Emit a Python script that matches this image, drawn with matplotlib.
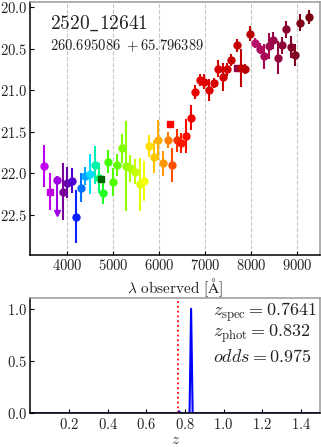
import numpy as np
import matplotlib
matplotlib.use("Agg")
import matplotlib.pyplot as plt

plt.rcParams['font.family'] = 'serif'
plt.rcParams['font.serif'] = ['cmr10']
plt.rcParams['mathtext.fontset'] = 'cm'
plt.rcParams['axes.formatter.use_mathtext'] = True
plt.rcParams['axes.unicode_minus'] = False

# --------------------- photometry -----------------------
wave = [3490, 3620, 3780, 3900, 3985, 4100, 4195, 4295, 4390, 4495,
        4600, 4685, 4735, 4785, 4885, 4985, 5080, 5185, 5270, 5375,
        5480, 5575, 5680, 5785, 5890, 5985, 6080, 6190, 6225, 6280,
        6385, 6475, 6580, 6685, 6785, 6880, 6980, 7090, 7185, 7275,
        7385, 7475, 7570, 7685, 7685, 7770, 7865, 7975, 8080, 8185,
        8290, 8385, 8485, 8580, 8675, 8765, 8870, 8955, 9060, 9270]
mag = [21.91, 22.22, 22.08, 22.22, 22.11, 22.09, 22.52, 22.17, 22.03, 22.01,
       21.90, 22.06, 22.07, 22.23, 21.86, 22.10, 21.90, 21.70, 21.91, 21.94,
       21.98, 22.13, 22.09, 21.67, 21.80, 21.60, 21.88, 21.60, 21.40, 21.90,
       21.60, 21.63, 21.55, 21.33, 21.02, 20.88, 20.90, 21.00, 20.91, 20.74,
       20.84, 20.75, 20.64, 20.46, 20.73, 20.73, 20.74, 20.32, 20.43, 20.50,
       20.59, 20.47, 20.40, 20.61, 20.46, 20.27, 20.48, 20.58, 20.19, 20.12]
err_lo = [0.25, 0.22, 0.05, 0.34, 0.19, 0.15, 0.32, 0.17, 0.11, 0.24,
          0.23, 0.18, 0.00, 0.14, 0.14, 0.17, 0.13, 0.18, 0.54, 0.16,
          0.15, 0.32, 0.24, 0.13, 0.20, 0.24, 0.15, 0.10, 0.00, 0.20,
          0.14, 0.12, 0.20, 0.15, 0.08, 0.07, 0.09, 0.13, 0.06, 0.10,
          0.17, 0.08, 0.07, 0.08, 0.00, 0.23, 0.06, 0.09, 0.06, 0.07,
          0.15, 0.16, 0.10, 0.20, 0.10, 0.10, 0.13, 0.13, 0.10, 0.08]
err_hi = list(err_lo)
err_hi[2] = 0.40
# broad-band filters drawn as squares, one upper limit
squares = [1, 12, 28, 44]
upper_limit = [2]
colors = ['#c000f0', '#c000e0', '#a000e8', '#7a009a', '#6800b0', '#5000d0',
          '#0a20ff', '#0070ff', '#00a8ff', '#00ddff', '#00f0b0', '#00ff70',
          '#006400', '#20ff20', '#40ff00', '#50ff00', '#60ff00', '#80ff00',
          '#90ff00', '#a8ff00', '#c8ff00', '#e0ff00', '#f8ff00', '#ffe000',
          '#ffc800', '#ffb000', '#ff9800', '#ff8000', '#ff0000', '#ff5000',
          '#ff3000', '#ff1800', '#ff0800', '#f00000', '#e80000', '#e40000',
          '#e00000', '#dc0000', '#d80000', '#d40000', '#d00000', '#cc0000',
          '#c80000', '#c40000', '#960046', '#c00000', '#bc0000', '#b80000',
          '#b8106a', '#b00c60', '#a80a58', '#a00850', '#9a0648', '#940540',
          '#8e0438', '#880330', '#840228', '#800020', '#800018', '#7a0010']

# --------------------- redshift pdf ---------------------
z_grid = [0.0, 0.765, 0.770, 0.775, 0.824, 0.832, 0.840, 1.5]
pdf = [0.0, 0.0, 0.02, 0.0, 0.0, 1.0, 0.0, 0.0]
z_spec = 0.7641
z_phot = 0.832
odds = 0.975
obj_id = "2520\\_12641"
ra, dec = 260.695086, 65.796389

txt = '#222222'

fig = plt.figure(figsize=(3.21, 4.47), dpi=100)
ax1 = fig.add_axes([0.095, 0.4295, 0.902, 0.566])
ax2 = fig.add_axes([0.095, 0.0755, 0.902, 0.257])

for i in range(len(wave)):
    m = 's' if i in squares else 'o'
    ax1.errorbar(wave[i], mag[i], yerr=[[err_lo[i]], [err_hi[i]]],
                 fmt=m, color=colors[i], ms=5, elinewidth=1.5, capsize=0)
    if i in upper_limit:
        ax1.plot(wave[i], mag[i] + err_hi[i], 'v', color=colors[i], ms=5)

ax1.set_xlim(3200, 9500)
ax1.set_ylim(22.98, 19.94)
ax1.set_xticks([4000, 5000, 6000, 7000, 8000, 9000])
ax1.set_yticks([20.0, 20.5, 21.0, 21.5, 22.0, 22.5])
ax1.yaxis.set_major_formatter(matplotlib.ticker.FormatStrFormatter('$%.1f$'))
ax1.grid(axis='x', color='#c8c8c8', ls='--', lw=0.8)
ax1.set_axisbelow(True)
ax1.set_xlabel(r'$\lambda\ \mathrm{observed\ [\AA]}$', fontsize=11, color=txt, labelpad=2)
ax1.text(0.068, 0.955, r'$\mathrm{' + obj_id + '}$', transform=ax1.transAxes,
         fontsize=14, color=txt, va='top', ha='left')
ax1.text(0.068, 0.86, r'$\mathrm{%.6f\ +%.6f}$' % (ra, dec), transform=ax1.transAxes,
         fontsize=10.5, color=txt, va='top', ha='left')

ax2.plot(z_grid, pdf, color='blue', lw=1.5)
ax2.axvline(z_spec, color='red', ls=':', lw=1.3)
ax2.set_xlim(0, 1.5)
ax2.set_ylim(0, 1.1)
ax2.set_xticks([0.2, 0.4, 0.6, 0.8, 1.0, 1.2, 1.4])
ax2.set_yticks([0.0, 0.5, 1.0])
ax2.xaxis.set_major_formatter(matplotlib.ticker.FormatStrFormatter('$%.1f$'))
ax2.yaxis.set_major_formatter(matplotlib.ticker.FormatStrFormatter('$%.1f$'))
ax2.set_xlabel(r'$z$', fontsize=11, color=txt, labelpad=1)
ax2.text(0.63, 0.88, r'$z_{\rm spec} = %.4f$' % z_spec, transform=ax2.transAxes,
         fontsize=13, color=txt, va='center')
ax2.text(0.63, 0.69, r'$z_{\rm phot} = %.3f$' % z_phot, transform=ax2.transAxes,
         fontsize=13, color=txt, va='center')
ax2.text(0.63, 0.49, r'$odds = %.3f$' % odds, transform=ax2.transAxes,
         fontsize=13, color=txt, va='center')

for ax in (ax1, ax2):
    ax.tick_params(direction='in', length=3, width=0.8, labelsize=10.5,
                   labelcolor=txt, pad=2.5)
    ax.spines['left'].set_color('black')
    ax.spines['bottom'].set_color('black')
    ax.spines['top'].set_color('#999999')
    ax.spines['right'].set_color('#999999')
    for s in ax.spines.values():
        s.set_linewidth(1.1)

fig.savefig("out.png", dpi=100)
